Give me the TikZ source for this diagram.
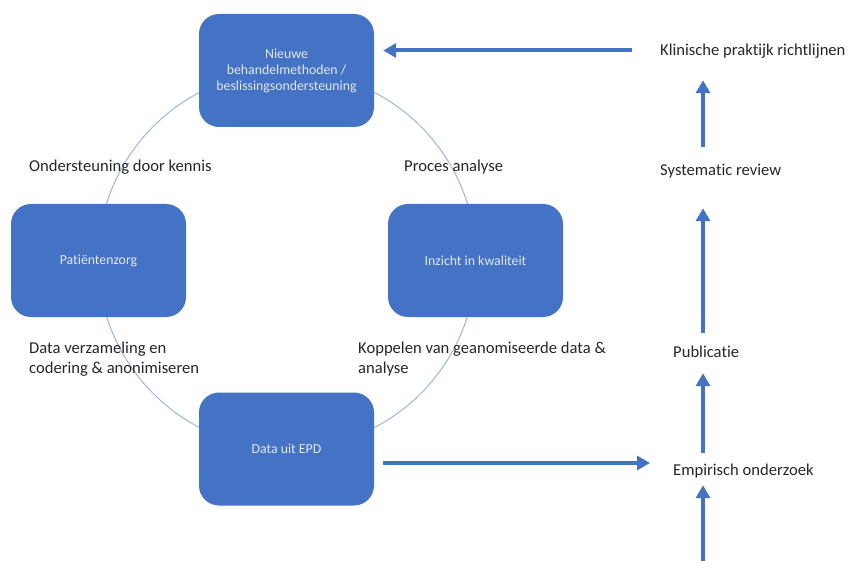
\documentclass[tikz,border=0pt]{standalone}
\usepackage{fontspec}
\setmainfont[Ligatures=NoCommon]{Carlito}
\usetikzlibrary{arrows.meta}
\definecolor{boxblue}{HTML}{4472C4}
\definecolor{ringblue}{HTML}{9DB4E0}
\definecolor{boxtext}{HTML}{E2E9F6}
\definecolor{labeltext}{HTML}{262626}
\begin{document}
\begin{tikzpicture}[x=1pt,y=-1pt,
  stage/.style={rounded corners=20pt, fill=boxblue, draw=none,
    minimum width=175pt, minimum height=113pt, inner sep=0pt,
    text=boxtext, align=center, font=\fontsize{13.8}{16}\selectfont},
  caption/.style={text=labeltext, align=left, inner sep=0pt,
    font=\fontsize{16.6}{20}\selectfont},
  steplabel/.style={caption, anchor=base west, text height=13pt, text depth=4pt},
  flow/.style={draw=boxblue, line width=4pt,
    -{Triangle[width=14pt,length=13pt]}},
  ring/.style={draw=ringblue, line width=1pt}
]
\useasboundingbox (0,0) rectangle (848,561);

% cycle
\draw[ring] (287,260) circle[radius=189];
\node[stage] (top)   at (286.5,70.5)  {Nieuwe\\behandelmethoden /\\beslissingsondersteuning};
\node[stage] (left)  at (98.5,260.5)  {Patiëntenzorg};
\node[stage] (right) at (475.5,260.5) {Inzicht in kwaliteit};
\node[stage] (epd)   at (286.5,449)   {Data uit EPD};

% captions along the cycle
\node[caption, anchor=base west] (c1) at (29,172)  {Ondersteuning door kennis};
\node[caption, anchor=base west] (c2) at (404,172) {Proces analyse};
\node[caption, anchor=north west] (c3) at (29,342)  {Data verzameling en\\codering \& anonimiseren};
\node[caption, anchor=north west] (c4) at (358,342) {Koppelen van geanomiseerde data \&\\analyse};

% research chain
\coordinate (ax) at (703,0);
\node[steplabel] (kl)  at (660,56)  {Klinische praktijk richtlijnen};
\node[steplabel] (sr)  at (660,176) {Systematic review};
\node[steplabel] (pub) at (673,357) {Publicatie};
\node[steplabel] (emp) at (673,475) {Empirisch onderzoek};
\coordinate (bottom) at (703,561);

\draw[flow, shorten <=16pt, shorten >=20pt] (sr.north -| ax) -- (kl.south -| ax);
\draw[flow, shorten <=11pt, shorten >=28pt] (pub.north -| ax) -- (sr.south -| ax);
\draw[flow, shorten <=9pt, shorten >=12pt] (emp.north -| ax) -- (pub.south -| ax);
\draw[flow, shorten >=6pt] (bottom) -- (emp.south -| ax);

% links between the cycle and the chain
\coordinate (e1) at ([shift={(9,14)}]epd.east);
\coordinate (e2) at ([xshift=-23pt]emp.west);
\draw[flow] (e1) -- (e1 -| e2);
\coordinate (k1) at ([shift={(-28,-1)}]kl.west);
\coordinate (t1) at ([xshift=9pt]top.east);
\draw[flow] (k1) -- (k1 -| t1);
\end{tikzpicture}
\end{document}
